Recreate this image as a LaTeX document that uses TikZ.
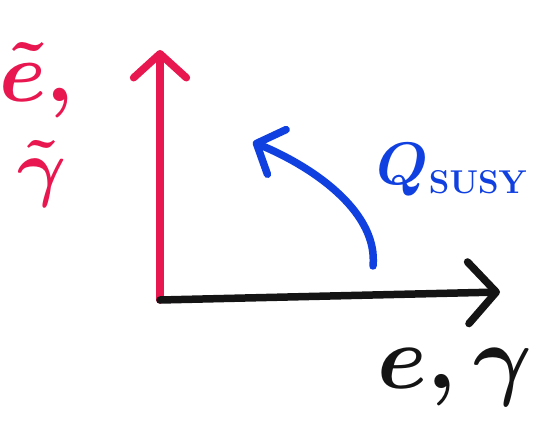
\RequirePackage{fix-cm}
\documentclass[tikz,border=0pt]{standalone}
\usetikzlibrary{arrows.meta}
\definecolor{axred}{HTML}{E8174F}
\definecolor{axblue}{HTML}{1040E0}
\definecolor{axblack}{HTML}{141414}
\tikzset{
  stroke/.style={line width=7.5pt, line cap=round, line join=round},
  openhead/.style={-{Straight Barb[length=#1, width=2.2*#1, line cap=round, line join=round]}},
  lbl/.style={inner sep=0pt, font=\fontsize{#1}{#1}\selectfont\boldmath},
}
\begin{document}
\begin{tikzpicture}[x=1pt,y=-1pt]
\useasboundingbox (0,0) rectangle (542,429);
\coordinate (O) at (160,300);
\coordinate (ytip) at (160,50);
\coordinate (xtip) at (500,292);
\coordinate (qstart) at (373,266);
\coordinate (qtip) at (253,142);
\draw[stroke, axred, openhead=24] (O) -- (ytip);
\draw[stroke, axblack, openhead=28] (O) -- (xtip);
\draw[stroke, axblue, openhead=22] (qstart) .. controls (378,215) and (320,170) .. (qtip);
\node[lbl=85, text=axred] (etilde) at (37,80) {$\tilde{e},$};
\node[lbl=75, text=axred] (gtilde) at (42,174) {$\tilde{\gamma}$};
\node[lbl=90, text=axblack] (egam) at (455,377) {$e,\gamma$};
\node[lbl=60, text=axblue] (q) at (452,170) {$Q_{\hbox{\fontsize{33}{33}\selectfont\bfseries SUSY}}$};
\end{tikzpicture}
\end{document}
